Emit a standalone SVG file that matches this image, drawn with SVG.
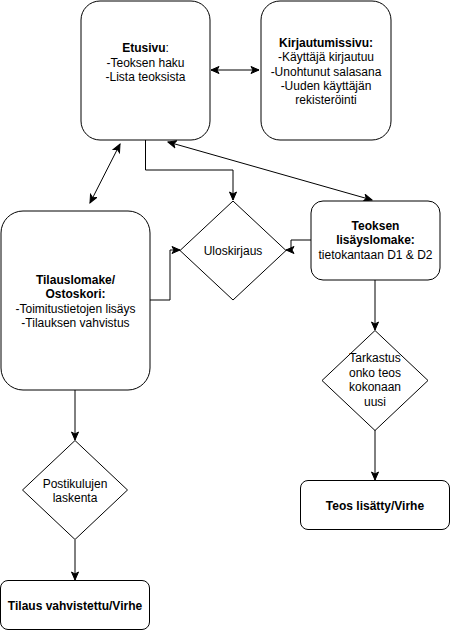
<svg xmlns="http://www.w3.org/2000/svg" width="451" height="631" viewBox="0 0 451 631">
<style>
.box{fill:#fff;stroke:#000;stroke-width:1}
.t{font-family:"Liberation Sans",Arial,sans-serif;font-size:12px;fill:#000;text-anchor:middle}
.b{font-weight:bold}
.c{fill:none;stroke:#000;stroke-width:1}
</style>
<defs>
<marker id="ae" markerWidth="10" markerHeight="10" refX="9" refY="4" orient="auto" markerUnits="userSpaceOnUse">
<path d="M1,0.5 L9,4 L1,7.5 L3,4 z" fill="#000" stroke="#000" stroke-width="1"/>
</marker>
<marker id="as" markerWidth="10" markerHeight="10" refX="1" refY="4" orient="auto" markerUnits="userSpaceOnUse">
<path d="M9,0.5 L1,4 L9,7.5 L7,4 z" fill="#000" stroke="#000" stroke-width="1"/>
</marker>
</defs>
<rect width="451" height="631" fill="#fff"/>
<g id="connectors">
<path class="c" d="M211,70 L259,70" marker-start="url(#as)" marker-end="url(#ae)"/>
<path class="c" d="M120,144 L90,203" marker-start="url(#as)" marker-end="url(#ae)"/>
<path class="c" d="M168,142 L372,200" marker-start="url(#as)" marker-end="url(#ae)"/>
<path class="c" d="M145.5,140 L145.5,170 L233,170 L233,200" marker-end="url(#ae)"/>
<path class="c" d="M150,300 L170,300 L170,250 L180,250" marker-end="url(#ae)"/>
<path class="c" d="M311,240 L291,240 L291,250 L286,250" marker-end="url(#ae)"/>
<path class="c" d="M375,280 L375,330" marker-end="url(#ae)"/>
<path class="c" d="M375,430 L375,480" marker-end="url(#ae)"/>
<path class="c" d="M75,390 L75,440" marker-end="url(#ae)"/>
<path class="c" d="M75,540 L75,580" marker-end="url(#ae)"/>
</g>
<g id="etusivu">
<rect class="box" x="81" y="1" width="129" height="139" rx="19" ry="19"/>
<text class="t" x="145.5" y="52"><tspan class="b">Etusivu</tspan>:</text>
<text class="t" x="145.5" y="66.5">-Teoksen haku</text>
<text class="t" x="145.5" y="81">-Lista teoksista</text>
</g>
<g id="kirjautumissivu">
<rect class="box" x="261" y="1" width="130" height="139" rx="19" ry="19"/>
<text class="t b" x="326" y="46.5">Kirjautumissivu:</text>
<text class="t" x="326" y="61">-Käyttäjä kirjautuu</text>
<text class="t" x="326" y="75.5">-Unohtunut salasana</text>
<text class="t" x="326" y="89.5">-Uuden käyttäjän</text>
<text class="t" x="326" y="104">rekisteröinti</text>
</g>
<g id="tilauslomake">
<rect class="box" x="1" y="211" width="149" height="179" rx="22" ry="22"/>
<text class="t b" x="75.5" y="283.5">Tilauslomake/</text>
<text class="t b" x="75.5" y="298">Ostoskori:</text>
<text class="t" x="75.5" y="312.5">-Toimitustietojen lisäys</text>
<text class="t" x="75.5" y="327">-Tilauksen vahvistus</text>
</g>
<g id="uloskirjaus">
<path class="box" d="M233,201 L286,250.5 L233,300 L180,250.5 Z"/>
<text class="t" x="233" y="255">Uloskirjaus</text>
</g>
<g id="teoksen-lisayslomake">
<rect class="box" x="311" y="201" width="129" height="79" rx="12" ry="12"/>
<text class="t b" x="375.5" y="229.5">Teoksen</text>
<text class="t b" x="375.5" y="244">lisäyslomake:</text>
<text class="t" x="375.5" y="258.5">tietokantaan D1 &amp; D2</text>
</g>
<g id="tarkastus">
<path class="box" d="M375,330.5 L428,380.5 L375,430.5 L322,380.5 Z"/>
<text class="t" x="375" y="362">Tarkastus</text>
<text class="t" x="375" y="376.5">onko teos</text>
<text class="t" x="375" y="391">kokonaan</text>
<text class="t" x="375" y="405.5">uusi</text>
</g>
<g id="teos-lisatty">
<rect class="box" x="300.5" y="480.5" width="149" height="49" rx="7.5" ry="7.5"/>
<text class="t b" x="375" y="509.5">Teos lisätty/Virhe</text>
</g>
<g id="postikulujen">
<path class="box" d="M75,440.5 L127.5,490 L75,539.5 L22.5,490 Z"/>
<text class="t" x="75" y="487.5">Postikulujen</text>
<text class="t" x="75" y="502">laskenta</text>
</g>
<g id="tilaus-vahvistettu">
<rect class="box" x="0.5" y="580.5" width="149" height="49" rx="7.5" ry="7.5"/>
<text class="t b" x="75" y="609.5">Tilaus vahvistettu/Virhe</text>
</g>
</svg>
